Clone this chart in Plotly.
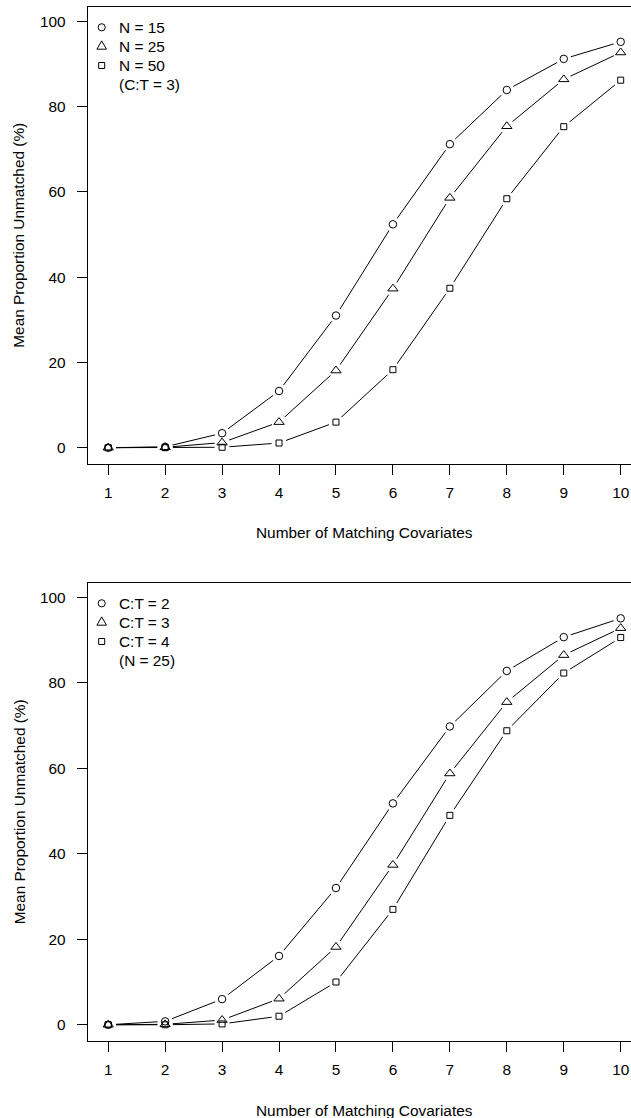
import plotly.graph_objects as go

# ---- data ----
x_vals = [1, 2, 3, 4, 5, 6, 7, 8, 9, 10]

top_n15 = [0.0, 0.2, 3.4, 13.3, 31.0, 52.4, 71.2, 83.9, 91.2, 95.2]
top_n25 = [0.0, 0.1, 1.2, 6.0, 18.1, 37.3, 58.6, 75.4, 86.4, 92.7]
top_n50 = [0.0, 0.0, 0.1, 1.1, 6.0, 18.3, 37.4, 58.4, 75.3, 86.2]

bot_ct2 = [0.0, 0.8, 6.0, 16.1, 32.0, 51.8, 69.8, 82.8, 90.7, 95.1]
bot_ct3 = [0.0, 0.1, 1.1, 6.1, 18.2, 37.4, 58.8, 75.5, 86.5, 92.8]
bot_ct4 = [0.0, 0.0, 0.2, 2.0, 10.0, 27.0, 49.0, 68.8, 82.3, 90.6]

top_names = ["N = 15", "N = 25", "N = 50"]
top_note = "(C:T = 3)"
bot_names = ["C:T = 2", "C:T = 3", "C:T = 4"]
bot_note = "(N = 25)"

x_ticks = [1, 2, 3, 4, 5, 6, 7, 8, 9, 10]
y_ticks = [0, 20, 40, 60, 80, 100]
x_title = "Number of Matching Covariates"
y_title = "Mean Proportion Unmatched (%)"

# ---- styling ----
W, H = 631, 1118
FONT = "Liberation Sans, Arial, Helvetica, sans-serif"
FS = 15.4
symbols = ["circle-open", "triangle-up-open", "square-open"]
sizes = [7.5, 9, 6]

fig = go.Figure()

panels = [
    dict(series=[top_n15, top_n25, top_n50], names=top_names, note=top_note,
         xa="x", ya="y", box=(7.3, 464.2)),
    dict(series=[bot_ct2, bot_ct3, bot_ct4], names=bot_names, note=bot_note,
         xa="x2", ya="y2", box=(583.3, 1041.3)),
]

for p in panels:
    # connecting lines
    for ys in p["series"]:
        fig.add_trace(go.Scatter(x=x_vals, y=ys, mode="lines", xaxis=p["xa"], yaxis=p["ya"],
                                 line=dict(color="black", width=1), showlegend=False,
                                 hoverinfo="skip"))
    # white halos -> gaps around points (R type = "b")
    for ys in p["series"]:
        fig.add_trace(go.Scatter(x=x_vals, y=ys, mode="markers", xaxis=p["xa"], yaxis=p["ya"],
                                 marker=dict(symbol="circle", color="white", size=15,
                                             line=dict(width=0)),
                                 showlegend=False, hoverinfo="skip"))
    # markers
    for ys, nm, sym, sz in zip(p["series"], p["names"], symbols, sizes):
        fig.add_trace(go.Scatter(x=x_vals, y=ys, mode="markers", name=nm,
                                 xaxis=p["xa"], yaxis=p["ya"], showlegend=False,
                                 marker=dict(symbol=sym, color="black", size=sz,
                                             line=dict(width=1, color="black"))))

# ---- geometry (pixels -> paper) ----
left_px = 87.7


def ydom(box):
    return [1 - box[1] / H, 1 - box[0] / H]


xdom = [left_px / W, 1.0]
xrange = [0.64, 10.181]
yrange = [-3.87, 103.3]

axis_common = dict(showline=True, linecolor="black", linewidth=1, ticks="outside",
                   ticklen=10, tickwidth=1, tickcolor="black", showgrid=False,
                   zeroline=False, automargin=False,
                   tickfont=dict(family=FONT, size=FS, color="black"))

fig.update_layout(
    width=W, height=H,
    margin=dict(l=0, r=0, t=0, b=0, autoexpand=False),
    paper_bgcolor="white", plot_bgcolor="white",
    font=dict(family=FONT, size=FS, color="black"),
    showlegend=False,
    xaxis=dict(domain=xdom, range=xrange, tickvals=x_ticks, mirror=True, anchor="y",
               ticklabelstandoff=4, **axis_common),
    yaxis=dict(domain=ydom(panels[0]["box"]), range=yrange, tickvals=y_ticks, anchor="x",
               ticklabelstandoff=8, **axis_common),
    xaxis2=dict(domain=xdom, range=xrange, tickvals=x_ticks, mirror=True, anchor="y2",
                ticklabelstandoff=4, **axis_common),
    yaxis2=dict(domain=ydom(panels[1]["box"]), range=yrange, tickvals=y_ticks, anchor="x2",
                ticklabelstandoff=8, **axis_common),
)

# ---- legends (R legend with bty = "n": symbols only, no lines) ----
sym_paths = [
    None,  # circle handled separately
    "M-4.8,-2.8 L4.8,-2.8 L0,5.5 Z",
    "M-3,-3 L3,-3 L3,3 L-3,3 Z",
]
leg_sym_x = 101.7
leg_txt_x = 116.7
row_gap = 19.1
for p in panels:
    first_row = p["box"][0] + 20.0
    labels = p["names"] + [p["note"]]
    for i, lab in enumerate(labels):
        yc = first_row + i * row_gap
        fig.add_annotation(text=lab, xref="paper", yref="paper", x=leg_txt_x / W,
                           y=1 - yc / H, xanchor="left", yanchor="middle", showarrow=False,
                           font=dict(family=FONT, size=FS, color="black"))
        if i < 3:
            common = dict(xref="paper", yref="paper", xsizemode="pixel", ysizemode="pixel",
                          xanchor=leg_sym_x / W, yanchor=1 - yc / H,
                          line=dict(color="black", width=1), fillcolor="rgba(0,0,0,0)")
            if i == 0:
                fig.add_shape(type="circle", x0=-3.6, x1=3.6, y0=-3.6, y1=3.6, **common)
            else:
                fig.add_shape(type="path", path=sym_paths[i], **common)

# axis titles (centred on the R plot region, which extends past the right edge)
xc = (87.2 + 641.2) / 2 / W
for ymid_px in (532, 1110):
    fig.add_annotation(text=x_title, xref="paper", yref="paper", x=xc, y=1 - ymid_px / H,
                       xanchor="center", yanchor="middle", showarrow=False,
                       font=dict(family=FONT, size=FS, color="black"))
for p in panels:
    box = p["box"]
    fig.add_annotation(text=y_title, xref="paper", yref="paper", x=19 / W,
                       y=1 - (box[0] + box[1]) / 2 / H, textangle=-90,
                       xanchor="center", yanchor="middle", showarrow=False,
                       font=dict(family=FONT, size=FS, color="black"))

fig.write_html("out.html")
